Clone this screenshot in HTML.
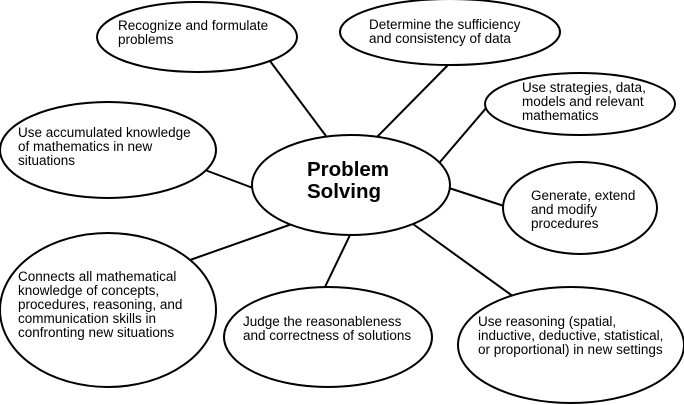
<!DOCTYPE html>
<html><head><style>
body{margin:0;width:684px;height:405px;background:#fff;position:relative;overflow:hidden;font-family:"Liberation Sans",Arial,sans-serif;}
svg{position:absolute;left:0;top:0}
.t{position:absolute;font-size:13.5px;line-height:14px;color:#000;white-space:nowrap;}
.b{position:absolute;font-size:20.5px;font-weight:bold;line-height:22px;}
</style></head><body>
<svg width="684" height="405" fill="#fff" stroke="#000" stroke-width="2">
<line x1="270" y1="61" x2="326" y2="136"/>
<line x1="449" y1="64" x2="377" y2="137"/>
<line x1="487" y1="107" x2="440" y2="162"/>
<line x1="205" y1="170" x2="253" y2="188"/>
<line x1="449" y1="188" x2="504" y2="206"/>
<line x1="190" y1="260" x2="292" y2="224"/>
<line x1="351" y1="233" x2="324" y2="289"/>
<line x1="413" y1="224" x2="514" y2="297"/>
<ellipse cx="197" cy="37" rx="100" ry="35"/>
<ellipse cx="450" cy="32" rx="110" ry="33"/>
<ellipse cx="580" cy="104" rx="95" ry="31"/>
<ellipse cx="108" cy="150" rx="108" ry="48"/>
<ellipse cx="351" cy="185" rx="99" ry="50"/>
<ellipse cx="580" cy="208" rx="77" ry="46"/>
<ellipse cx="108" cy="310" rx="108" ry="77"/>
<ellipse cx="328" cy="337" rx="104" ry="50"/>
<ellipse cx="571" cy="345" rx="113" ry="58"/>
</svg>
<div class="t" style="left:118px;top:19px">Recognize and formulate<br>problems</div>
<div class="t" style="left:369px;top:18px">Determine the sufficiency<br>and consistency of data</div>
<div class="t" style="left:522px;top:81px">Use strategies, data,<br>models and relevant<br>mathematics</div>
<div class="t" style="left:18px;top:126px">Use accumulated knowledge<br>of mathematics in new<br>situations</div>
<div class="b" style="left:307px;top:159px">Problem<br>Solving</div>
<div class="t" style="left:531px;top:189px">Generate, extend<br>and modify<br>procedures</div>
<div class="t" style="left:18px;top:270px">Connects all mathematical<br>knowledge of concepts,<br>procedures, reasoning, and<br>communication skills in<br>confronting new situations</div>
<div class="t" style="left:243px;top:315px">Judge the reasonableness<br>and correctness of solutions</div>
<div class="t" style="left:478px;top:315px">Use reasoning (spatial,<br>inductive, deductive, statistical,<br>or proportional) in new settings</div>
</body></html>
